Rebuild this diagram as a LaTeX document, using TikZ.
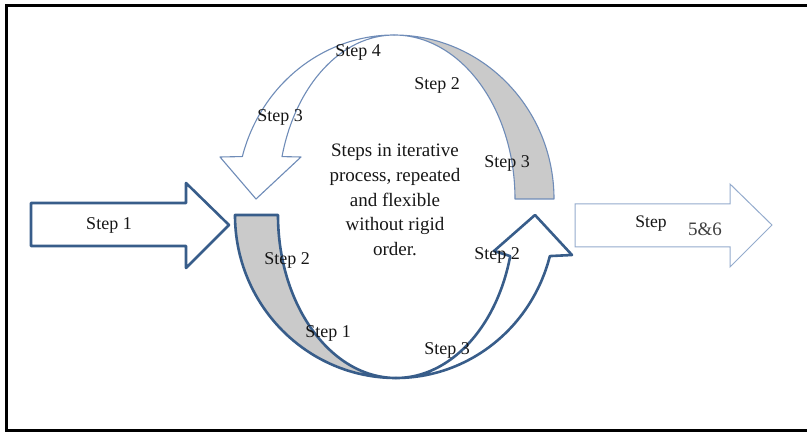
\documentclass[tikz,border=0pt]{standalone}
\usepackage{fontspec}
\setmainfont{Liberation Serif}
\definecolor{arrowdark}{HTML}{385D8A}
\definecolor{arrowlight}{HTML}{6F8CB8}
\definecolor{arrowpale}{HTML}{94ABCD}
\definecolor{bandgray}{HTML}{CACACA}
\definecolor{labeltext}{HTML}{161616}

\begin{document}
\begin{tikzpicture}[x=1pt,y=-1pt,
    lbl/.style={font=\fontsize{18}{20}\selectfont, text=labeltext, inner sep=0pt},
    darkarrow/.style={draw=arrowdark, line width=2.6pt, line join=round},
    lightarrow/.style={draw=arrowlight, line width=1.1pt, line join=round},
    palearrow/.style={draw=arrowpale, line width=1pt, line join=miter}]
      \useasboundingbox (0,0) rectangle (807,433);
      % frame, open on the right
      \draw[black, line width=3pt] (812,6) -- (6.5,6) -- (6.5,430) -- (812,430);
      % way in and way out
      \draw[darkarrow, fill=white] (31,203) -- (186,203) -- (186,183) -- (229,225)
            -- (186,268) -- (186,246) -- (31,246) -- cycle;
      \draw[palearrow, fill=white] (575,204) -- (730,204) -- (730,184) -- (772,225)
            -- (730,267) -- (730,247) -- (575,247) -- cycle;
      % upper curved arrow
      \draw[lightarrow, fill=bandgray] (554,199)
            arc[start angle=0, end angle=-90, x radius=160, y radius=164]
            arc[start angle=-90, end angle=0, x radius=121, y radius=164] -- cycle;
      \draw[lightarrow, fill=white] (394,35)
            arc[start angle=-90, end angle=-165, x radius=157, y radius=164]
            -- (220,157) -- (256,199) -- (301,157) -- (282.0,156.6)
            arc[start angle=-165, end angle=-90, x radius=116, y radius=164] -- cycle;
      % lower curved arrow
      \draw[darkarrow, fill=bandgray] (235,215)
            arc[start angle=180, end angle=90, x radius=161, y radius=163]
            arc[start angle=90, end angle=180, x radius=118, y radius=163] -- cycle;
      \draw[darkarrow, fill=white] (396,378)
            arc[start angle=90, end angle=14.6, x radius=159, y radius=163]
            -- (572,255) -- (535,215) -- (494,251) -- (510.2,256.1)
            arc[start angle=14.6, end angle=90, x radius=118, y radius=163] -- cycle;
      % labels
      \node[lbl] (stepin) at (109,225) {Step 1};
      \node[lbl] (topfour) at (358,52) {Step 4};
      \node[lbl] (toptwo) at (437,85) {Step 2};
      \node[lbl] (topthreeleft) at (280,117) {Step 3};
      \node[lbl] (topthreeright) at (507,163) {Step 3};
      \node[lbl] (lowtwoleft) at (287,260) {Step 2};
      \node[lbl] (lowone) at (328,333) {Step 1};
      \node[lbl] (lowthree) at (447,350) {Step 3};
      \node[lbl] (lowtworight) at (497,255) {Step 2};
      \node[lbl, font=\fontsize{19}{24.7}\selectfont, align=center] (centre) at (395,200)
            {Steps in iterative\\process, repeated\\and flexible\\without rigid\\order.};
      \node[lbl, font=\fontsize{17.6}{20}\selectfont] (stepout) at (651,224) {Step};
      \node[lbl, font=\fontsize{19}{22}\selectfont, text=black!75] (stepnums) at (705,229) {5\&6};
\end{tikzpicture}
\end{document}
